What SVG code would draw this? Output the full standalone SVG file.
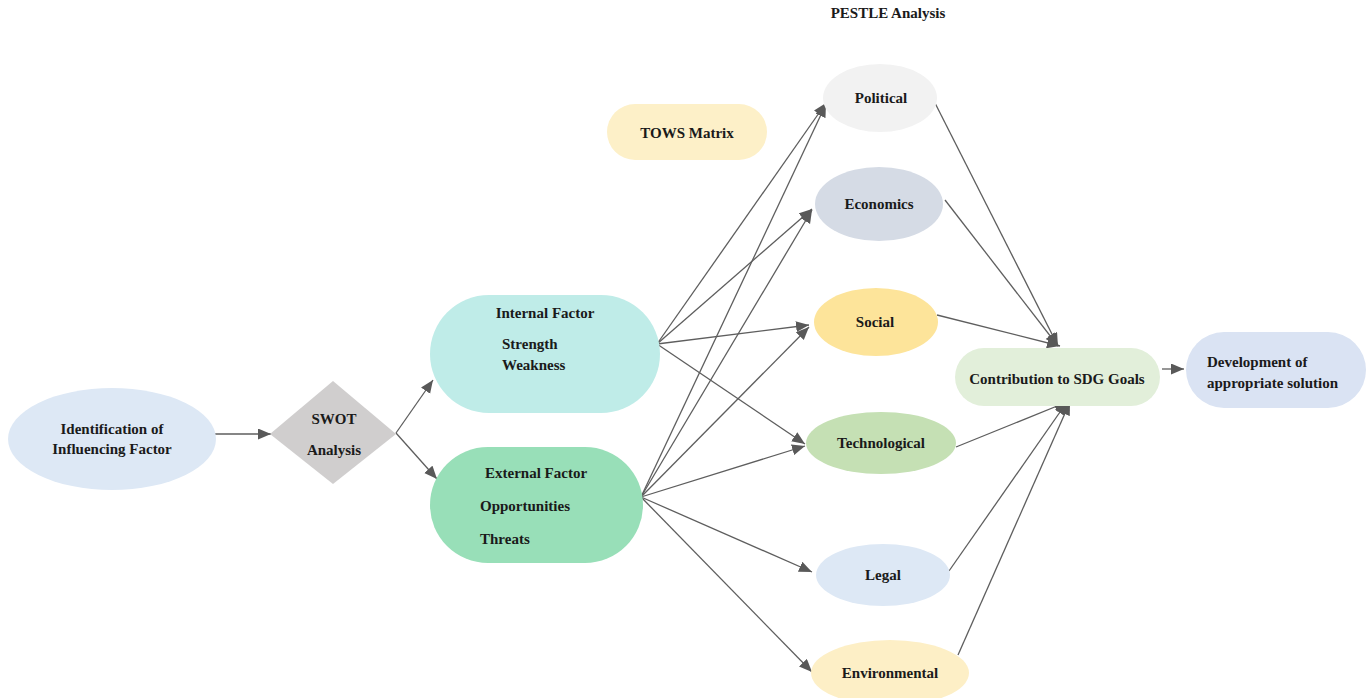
<svg xmlns="http://www.w3.org/2000/svg" width="1370" height="698" viewBox="0 0 1370 698">
<defs>
<marker id="ah" markerUnits="userSpaceOnUse" markerWidth="15" markerHeight="12" refX="13" refY="5.5" orient="auto">
<path d="M0,0 L13,5.5 L0,11 z" fill="#595959"/>
</marker>
<style>
.t{font-family:"Liberation Serif","DejaVu Serif",serif;font-weight:bold;font-size:15px;fill:#1a1a1a}
.c{text-anchor:middle}
.ln{stroke:#5e5e5e;stroke-width:1.3;fill:none;marker-end:url(#ah)}
</style>
</defs>
<rect width="1370" height="698" fill="#ffffff"/>
<text class="t c" x="888" y="18">PESTLE Analysis</text>

<g id="connectors">
<line class="ln" x1="215" y1="434" x2="271" y2="434"/>
<line class="ln" x1="396" y1="433" x2="433" y2="380"/>
<line class="ln" x1="396" y1="433" x2="437" y2="479"/>
<line class="ln" x1="657" y1="344" x2="826" y2="103"/>
<line class="ln" x1="657" y1="344" x2="812" y2="209"/>
<line class="ln" x1="657" y1="344" x2="809" y2="325"/>
<line class="ln" x1="657" y1="344" x2="805" y2="444"/>
<line class="ln" x1="641" y1="497" x2="826" y2="104"/>
<line class="ln" x1="641" y1="497" x2="812" y2="210"/>
<line class="ln" x1="641" y1="497" x2="809" y2="327"/>
<line class="ln" x1="641" y1="497" x2="805" y2="446"/>
<line class="ln" x1="641" y1="497" x2="812" y2="572"/>
<line class="ln" x1="641" y1="497" x2="812" y2="672"/>
<line class="ln" x1="935" y1="103" x2="1058" y2="346"/>
<line class="ln" x1="945" y1="200" x2="1058" y2="346"/>
<line class="ln" x1="937" y1="315" x2="1060" y2="346"/>
<line class="ln" x1="956" y1="447" x2="1067" y2="402"/>
<line class="ln" x1="949" y1="571" x2="1067" y2="402"/>
<line class="ln" x1="958" y1="655" x2="1070" y2="402"/>
<line class="ln" x1="1162" y1="369" x2="1184" y2="369"/>
</g>

<g id="identification">
<ellipse cx="112" cy="439" rx="104" ry="51" fill="#dde8f5"/>
<text class="t c" x="112" y="434">Identification of</text>
<text class="t c" x="112" y="454">Influencing Factor</text>
</g>

<g id="swot">
<polygon points="270,434 333,381 396,434 333,484" fill="#d0cece"/>
<text class="t c" x="334" y="424">SWOT</text>
<text class="t c" x="334" y="455">Analysis</text>
</g>

<g id="internal">
<rect x="430" y="295" width="230" height="118" rx="59" fill="#bfece8"/>
<text class="t c" x="545" y="318">Internal Factor</text>
<text class="t" x="502" y="349">Strength</text>
<text class="t" x="502" y="370">Weakness</text>
</g>

<g id="external">
<rect x="430" y="447" width="213" height="116" rx="58" fill="#98dfb8"/>
<text class="t" x="485" y="478">External Factor</text>
<text class="t" x="480" y="511">Opportunities</text>
<text class="t" x="480" y="544">Threats</text>
</g>

<g id="tows">
<rect x="607" y="104" width="160" height="56" rx="28" fill="#fdf0c8"/>
<text class="t c" x="687" y="138">TOWS Matrix</text>
</g>

<g id="political">
<ellipse cx="880" cy="98" rx="57" ry="34" fill="#f2f2f2"/>
<text class="t c" x="881" y="103">Political</text>
</g>

<g id="economics">
<ellipse cx="879" cy="204" rx="64" ry="37" fill="#d5dbe5"/>
<text class="t c" x="879" y="209">Economics</text>
</g>

<g id="social">
<ellipse cx="876" cy="322" rx="62" ry="34" fill="#fde49a"/>
<text class="t c" x="875" y="327">Social</text>
</g>

<g id="technological">
<ellipse cx="881" cy="443" rx="75" ry="31" fill="#c5e0b4"/>
<text class="t c" x="881" y="448">Technological</text>
</g>

<g id="legal">
<ellipse cx="883" cy="575" rx="67" ry="31" fill="#dde8f5"/>
<text class="t c" x="883" y="580">Legal</text>
</g>

<g id="environmental">
<ellipse cx="890" cy="673" rx="79" ry="33" fill="#fdefc6"/>
<text class="t c" x="890" y="678">Environmental</text>
</g>

<g id="contribution">
<rect x="955" y="348" width="205" height="58" rx="29" fill="#e2efda"/>
<text class="t c" x="1057" y="384">Contribution to SDG Goals</text>
</g>

<g id="development">
<rect x="1186" y="332" width="180" height="76" rx="38" fill="#dae3f3"/>
<text class="t" x="1207" y="367">Development of</text>
<text class="t" x="1207" y="388">appropriate solution</text>
</g>
</svg>
